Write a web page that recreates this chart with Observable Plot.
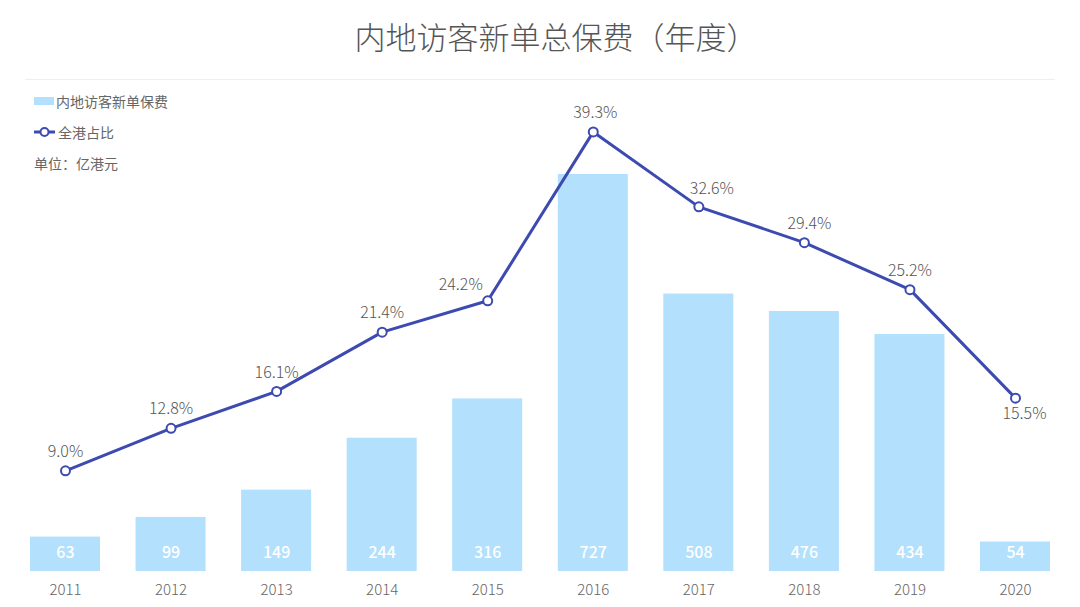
<!DOCTYPE html>
<html>
<head>
<meta charset="utf-8">
<script src="https://cdn.jsdelivr.net/npm/d3@7"></script>
<script src="https://cdn.jsdelivr.net/npm/@observablehq/plot@0.6"></script>
<style>
  html, body { margin: 0; padding: 0; background: #fff; }
  body { width: 1080px; height: 607px; position: relative; overflow: hidden;
         font-family: "Noto Sans CJK SC", "Noto Sans", sans-serif; }
  #title { position: absolute; left: 0; top: 0; width: 1080px; height: 79px;
           text-align: center; font-size: 31px; color: #555; line-height: 72px; padding-left: 32px; box-sizing: border-box; font-weight: 300; }
  #sep { position: absolute; left: 25px; top: 79px; width: 1030px; height: 1px; background: #eee; }
  #chart { position: absolute; left: 0; top: 80px; }
  #legend { position: absolute; left: 34px; top: 91px; font-size: 14px; color: #666; }
  .row { height: 31px; display: flex; align-items: flex-start; }
  .sw { display: inline-block; }
</style>
</head>
<body>
<div id="title">内地访客新单总保费（年度）</div>
<div id="sep"></div>
<div id="chart"></div>
<div id="legend"></div>
<script>
const years = ["2011","2012","2013","2014","2015","2016","2017","2018","2019","2020"];
const premiums = [63, 99, 149, 244, 316, 727, 508, 476, 434, 54];
const shares = [9.0, 12.8, 16.1, 21.4, 24.2, 39.3, 32.6, 29.4, 25.2, 15.5];
const seriesNames = ["内地访客新单保费", "全港占比"];
const unitLabel = "单位：亿港元";

const barColor = "#b3e0fc";
const lineColor = "#3d4ab0";
const k = 20.48; // percent -> premium units (secondary axis mapping)

const data = years.map((y, i) => ({year: y, premium: premiums[i], share: shares[i], shareScaled: shares[i] * k}));

// label placement tweaks (styling, not data)
const labelOffsets = {"2015": [-27, -16], "2016": [2, -19], "2017": [13, -18], "2018": [5, -19], "2020": [9, 16]};
const defaultOffset = [0, -19];
const groups = d3.group(data, d => String(labelOffsets[d.year] || defaultOffset));
const pctMarks = Array.from(groups, ([key, rows]) => {
  const [dx, dy] = key.split(",").map(Number);
  return Plot.text(rows, {x: "year", y: "shareScaled", text: d => d.share.toFixed(1) + "%", dx, dy, fill: "#555", fontSize: 16, fontWeight: 300});
});

const chart = Plot.plot({
  width: 1080,
  height: 527,
  marginTop: 0,
  marginBottom: 36,
  marginLeft: 30,
  marginRight: 30,
  style: {fontFamily: '"Noto Sans CJK SC", "Noto Sans", sans-serif', background: "transparent"},
  x: {domain: years, paddingInner: 0.337, paddingOuter: 0, round: false, label: null},
  y: {domain: [0, 899], axis: null},
  marks: [
    Plot.barY(data, {x: "year", y: "premium", fill: barColor}),
    Plot.text(data, {x: "year", y: 0, text: d => String(d.premium), dy: -19, fill: "#fff", fontSize: 16, fontWeight: 500}),
    Plot.lineY(data, {x: "year", y: "shareScaled", stroke: lineColor, strokeWidth: 3}),
    Plot.dot(data, {x: "year", y: "shareScaled", r: 4.5, fill: "#fff", stroke: lineColor, strokeWidth: 2}),
    ...pctMarks,
    Plot.axisX({tickSize: 0, tickPadding: 13, fontSize: 15, fill: "#666", fontWeight: 300, label: null})
  ]
});
document.getElementById("chart").appendChild(chart);

const legend = document.getElementById("legend");
legend.innerHTML = `
  <div class="row"><svg class="sw" width="22" height="20"><rect x="0" y="6" width="20" height="8" fill="${barColor}"/></svg><span>${seriesNames[0]}</span></div>
  <div class="row"><svg class="sw" width="24" height="20"><line x1="0" y1="10" x2="21" y2="10" stroke="${lineColor}" stroke-width="3"/><circle cx="10.5" cy="10" r="4" fill="#fff" stroke="${lineColor}" stroke-width="2"/></svg><span>${seriesNames[1]}</span></div>
  <div class="row"><span>${unitLabel}</span></div>`;
</script>
</body>
</html>
